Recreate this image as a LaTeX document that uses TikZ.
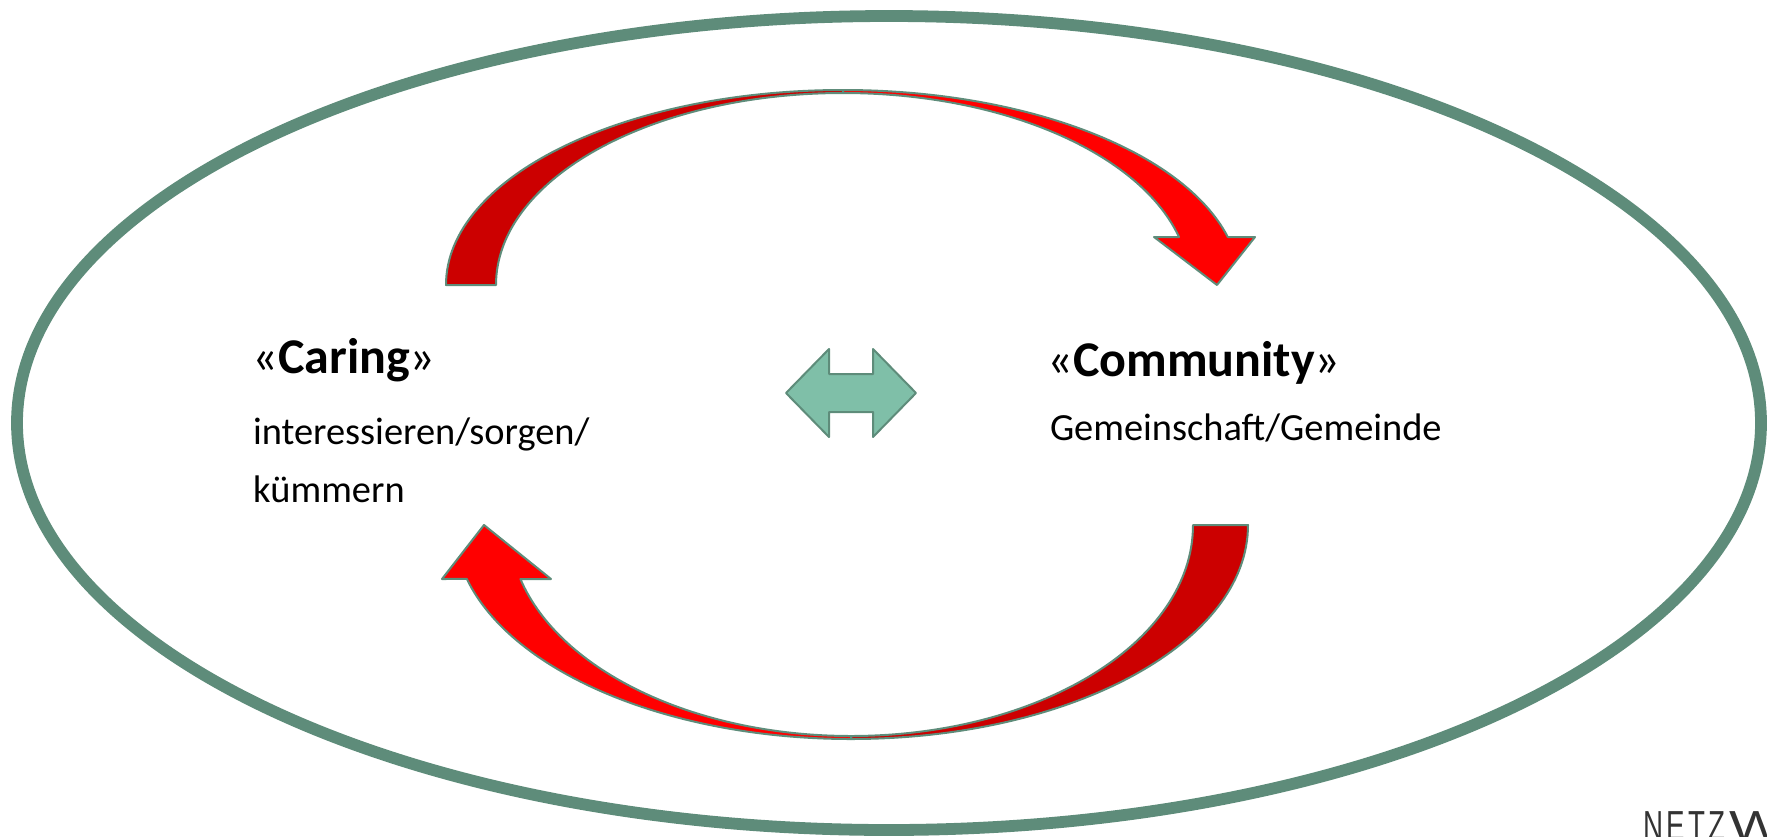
\documentclass[tikz,border=0pt]{standalone}
\usepackage{fontspec}
\setmainfont{Carlito}
\newfontfamily\netzfont{Liberation Sans}[LetterSpace=12]
\definecolor{rimgreen}{RGB}{94,140,122}
\definecolor{darkred}{RGB}{204,0,0}
\definecolor{brightred}{RGB}{255,0,0}
\definecolor{mint}{RGB}{127,191,168}
\definecolor{logogray}{RGB}{51,51,51}
\begin{document}
\begin{tikzpicture}[x=0.5pt,y=0.5pt,
  band/.style={draw=rimgreen, line width=1pt, line join=round},
  lbl/.style={anchor=base west, inner sep=0pt, outer sep=0pt},
  headtext/.style={font=\fontsize{25}{30}\selectfont},
  subtext/.style={font=\fontsize{19.2}{27.5}\selectfont}]
\useasboundingbox (0,0) rectangle (1767,-836);
\clip (0,0) rectangle (1767,-836);
\draw[rimgreen, line width=5.9pt] (889,-423) ellipse [x radius=872, y radius=407];
% top arrow
\filldraw[band, fill=darkred] (446,-285) arc[start angle=180,end angle=90,x radius=397,y radius=195]
  -- (843,-93) arc[start angle=90,end angle=180,x radius=347,y radius=192] -- cycle;
\filldraw[band, fill=brightred] (843,-90) arc[start angle=90,end angle=14.25,x radius=397,y radius=195]
  -- (1255,-237) -- (1217,-285) -- (1154,-237) -- (1179,-237)
  arc[start angle=14.48,end angle=90,x radius=347,y radius=192] -- cycle;
% bottom arrow
\filldraw[band, fill=darkred] (1248,-525) arc[start angle=0,end angle=-90,x radius=397,y radius=214]
  -- (851,-736) arc[start angle=-90,end angle=0,x radius=342,y radius=211] -- cycle;
\filldraw[band, fill=brightred] (851,-739) arc[start angle=-90,end angle=-165.4,x radius=397,y radius=214]
  -- (442,-579) -- (484,-525) -- (551,-579) -- (520.4,-579)
  arc[start angle=-165.17,end angle=-90,x radius=342,y radius=211] -- cycle;
% double arrow
\filldraw[band, fill=mint] (786,-393) -- (829,-349) -- (829,-374) -- (873,-374) -- (873,-349)
  -- (916,-393) -- (873,-437) -- (873,-412) -- (829,-412) -- (829,-437) -- cycle;
% texts
\node[lbl, headtext] (caring) at (252.5,-373) {«\textbf{Caring}»};
\node[lbl, subtext] (caringsub) at (253,-444) {interessieren/sorgen/};
\node[lbl, subtext] (caringsubb) at (253,-502) {kümmern};
\node[lbl, headtext] (community) at (1047.5,-376) {«\textbf{Community}»};
\node[lbl, subtext] (communitysub) at (1050,-440) {Gemeinschaft/Gemeinde};
\node[lbl, font=\netzfont\fontsize{21}{21}\selectfont, text=logogray] (netz) at (1643,-840)
  {\scalebox{0.66}[1]{NETZ}\hspace{2pt}\scalebox{1.35}[1]{W}};
\end{tikzpicture}
\end{document}
